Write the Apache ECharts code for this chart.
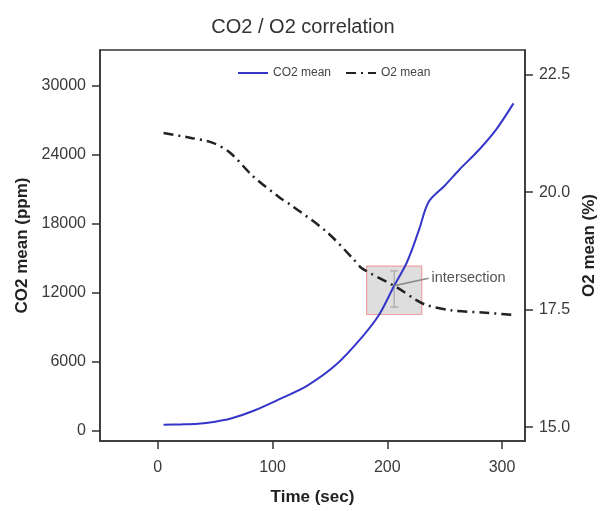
<!DOCTYPE html>
<html>
<head>
<meta charset="utf-8">
<script src="https://cdn.jsdelivr.net/npm/echarts@6/dist/echarts.min.js"></script>
<style>html,body{margin:0;padding:0;background:#fff}#c{width:606px;height:511px}</style>
</head>
<body>
<div id="c"></div>
<script>
// ---- data ----
var co2Time  = [5, 20, 35, 50, 63, 83, 106, 130, 155, 178, 193, 206, 216, 222, 228, 236, 250, 263, 280, 295, 310];
var co2Mean  = [510, 540, 600, 780, 1030, 1710, 2740, 3900, 5700, 8140, 10100, 12600, 14400, 15860, 17570, 19890, 21300, 22710, 24430, 26200, 28460];
var o2Time   = [5, 28, 48, 63, 83, 106, 117, 147, 170, 178, 208, 225, 234, 257, 283, 309];
var o2Mean   = [21.26, 21.16, 21.05, 20.84, 20.34, 19.89, 19.71, 19.16, 18.59, 18.38, 17.98, 17.71, 17.60, 17.48, 17.44, 17.39];
var xTicks   = [0, 100, 200, 300];
var co2Ticks = [0, 6000, 12000, 18000, 24000, 30000];
var o2Ticks  = [15.0, 17.5, 20.0, 22.5];
// intersection annotation (data units)
var boxTime  = [182, 230];
var boxCO2   = [10100, 14300];
var errTime  = 206;
var errCO2   = [10740, 13900];
var crossPt  = [206, 12600];
var labelPt  = [236, 13250];

var FONT = 'Liberation Sans, Arial, sans-serif';
var co2Data = co2Time.map(function (t, i) { return [t, co2Mean[i]]; });
var o2Data = o2Time.map(function (t, i) { return [t, o2Mean[i]]; });

var axisLineStyle = { color: '#333', width: 1.5 };
var chart = echarts.init(document.getElementById('c'), null, { renderer: 'canvas' });
chart.setOption({
  animation: false,
  backgroundColor: '#fff',
  title: {
    text: 'CO2 / O2 correlation', left: 'center', top: 12,
    textStyle: { fontFamily: FONT, fontSize: 20, fontWeight: 'normal', color: '#333' }
  },
  legend: {
    data: ['CO2 mean', 'O2 mean'], left: 232, top: 62,
    itemWidth: 30, itemHeight: 10, itemGap: 14,
    itemStyle: { opacity: 0, borderWidth: 0 },
    textStyle: { fontFamily: FONT, fontSize: 12, color: '#444' }
  },
  grid: { left: 100, right: 80, top: 50, bottom: 66, show: true, borderColor: '#333', borderWidth: 1.5, containLabel: false },
  xAxis: {
    type: 'value', min: -50.4, max: 320,
    name: 'Time (sec)', nameLocation: 'middle', nameGap: 48,
    nameTextStyle: { fontFamily: FONT, fontSize: 17, fontWeight: 'bold', color: '#222' },
    axisLine: { show: true, onZero: false, lineStyle: axisLineStyle },
    axisTick: { show: true, inside: false, length: 8, lineStyle: axisLineStyle, customValues: xTicks },
    axisLabel: { fontFamily: FONT, fontSize: 16, color: '#3a3a3a', margin: 19, customValues: xTicks,
      formatter: function (v) { return String(v); } },
    splitLine: { show: false }
  },
  yAxis: [{
    type: 'value', min: -900, max: 33100, position: 'left',
    name: 'CO2 mean (ppm)', nameLocation: 'middle', nameGap: 68, nameRotate: 90,
    nameTextStyle: { fontFamily: FONT, fontSize: 17, fontWeight: 'bold', color: '#222' },
    axisLine: { show: true, onZero: false, lineStyle: axisLineStyle },
    axisTick: { show: true, inside: false, length: 8, lineStyle: axisLineStyle, customValues: co2Ticks },
    axisLabel: { fontFamily: FONT, fontSize: 16, color: '#3a3a3a', margin: 14, customValues: co2Ticks,
      formatter: function (v) { return String(v); } },
    splitLine: { show: false }
  }, {
    type: 'value', min: 14.705, max: 23.027, position: 'right',
    name: 'O2 mean (%)', nameLocation: 'middle', nameGap: 54, nameRotate: 90,
    nameTextStyle: { fontFamily: FONT, fontSize: 17, fontWeight: 'bold', color: '#222' },
    axisLine: { show: true, onZero: false, lineStyle: axisLineStyle },
    axisTick: { show: true, inside: false, length: 8, lineStyle: axisLineStyle, customValues: o2Ticks },
    axisLabel: { fontFamily: FONT, fontSize: 16, color: '#3a3a3a', margin: 14, customValues: o2Ticks,
      formatter: function (v) { return v.toFixed(1); } },
    splitLine: { show: false }
  }],
  series: [{
    name: 'CO2 mean', type: 'line', yAxisIndex: 0, data: co2Data, smooth: 0.3,
    showSymbol: false, symbol: 'none',
    lineStyle: { color: '#3535c8', width: 2 }, itemStyle: { color: '#3535c8' },
    markArea: {
      silent: true,
      itemStyle: { color: 'rgba(205,205,205,0.65)', borderColor: '#f0a0a0', borderWidth: 1.2 },
      data: [[{ xAxis: boxTime[0], yAxis: boxCO2[0] }, { xAxis: boxTime[1], yAxis: boxCO2[1] }]]
    },
    markLine: {
      silent: true, symbol: 'none',
      lineStyle: { color: '#888', width: 1.5, type: 'solid' },
      label: { show: true, position: 'end', distance: 3, formatter: 'intersection',
        fontFamily: FONT, fontSize: 14.5, color: '#555' },
      data: [[{ coord: crossPt }, { coord: labelPt }]]
    },
    z: 3
  }, {
    name: 'O2 mean', type: 'line', yAxisIndex: 1, data: o2Data, smooth: 0.3,
    showSymbol: false, symbol: 'none',
    lineStyle: { color: '#222', width: 2.5, type: [10, 5, 2, 5] }, itemStyle: { color: '#222' },
    z: 3
  }, {
    name: 'err', type: 'custom', yAxisIndex: 0, silent: true, z: 2,
    data: [[errTime, errCO2[0], errCO2[1]]],
    renderItem: function (params, api) {
      var lo = api.coord([api.value(0), api.value(1)]);
      var hi = api.coord([api.value(0), api.value(2)]);
      var s = { stroke: '#aaa', lineWidth: 1.3 };
      return { type: 'group', children: [
        { type: 'line', shape: { x1: lo[0], y1: lo[1], x2: hi[0], y2: hi[1] }, style: s },
        { type: 'line', shape: { x1: lo[0] - 4, y1: lo[1], x2: lo[0] + 4, y2: lo[1] }, style: s },
        { type: 'line', shape: { x1: hi[0] - 4, y1: hi[1], x2: hi[0] + 4, y2: hi[1] }, style: s }
      ] };
    }
  }]
});
</script>
</body>
</html>
